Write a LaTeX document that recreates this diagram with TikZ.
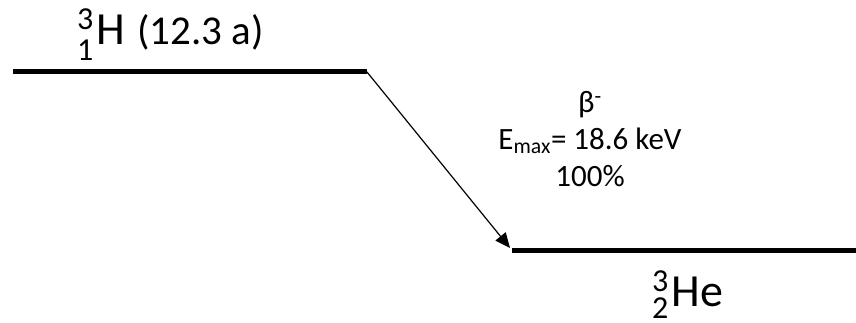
\documentclass[tikz,border=0pt]{standalone}
\usepackage{fontspec}
\setmainfont{Carlito}
\usetikzlibrary{arrows.meta}
% #1 superscript, #2 subscript, #3 symbol, #4 subscript drop
\newcommand\nuclide[4]{\makebox[0pt][l]{\raisebox{15pt}{\fontsize{32}{32}\selectfont #1}}\raisebox{-#4}{\fontsize{32}{32}\selectfont #2}\kern3pt #3}
\tikzset{
  level/.style={line width=5pt},
  decay/.style={line width=1.2pt,-{Triangle[length=15pt,width=13pt]}},
  biglabel/.style={inner sep=0pt,font=\fontsize{46}{46}\selectfont},
  infolabel/.style={inner sep=0pt,align=center,font=\fontsize{31}{37}\selectfont}
}
\begin{document}
\begin{tikzpicture}[x=1pt,y=1pt]
\useasboundingbox[fill=white] (0,0) rectangle (856,322);
\coordinate (p1) at (13,250);
\coordinate (p2) at (367,250);
\coordinate (d1) at (512,72);
\coordinate (d2) at (856,72);
\coordinate (tip) at (510,74);
\draw[level] (p1) -- (p2);
\draw[level] (d1) -- (d2);
\draw[decay] (p2) -- (tip);
\node[biglabel,anchor=base west] (parent) at (77,277) {\nuclide{3}{1}{H}{16pt}\hspace{12pt}{\fontsize{41}{41}\selectfont(12.3 a)}};
\node[infolabel,anchor=north] (info) at (590,231) {β\textsuperscript{-}\\E\textsubscript{max}= 18.6 keV\\100\%};
\node[biglabel,anchor=base west] (daughter) at (652,16) {\nuclide{3}{2}{He}{12pt}};
\end{tikzpicture}
\end{document}
